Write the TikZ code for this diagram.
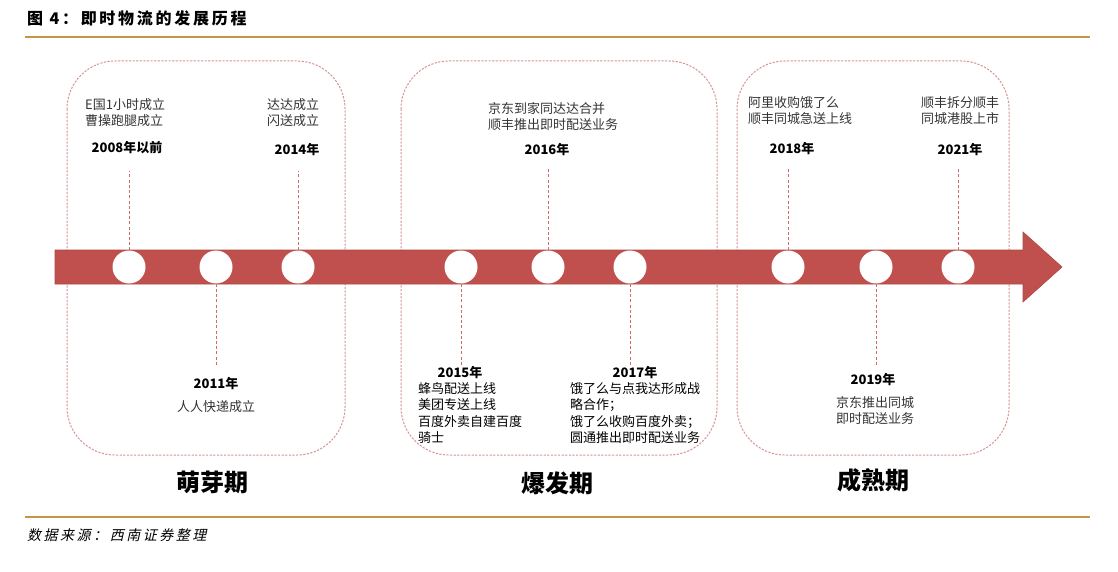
\documentclass[tikz,border=0pt]{standalone}
\usepackage{fontspec}
\setmainfont{Noto Sans CJK SC}
\newfontfamily\srcfont[FakeSlant=0.22,LetterSpace=18]{Noto Sans CJK SC}
\newfontfamily\titlefont[LetterSpace=17]{Noto Sans CJK SC}
\usepackage{tikz}
\usetikzlibrary{calc}
\definecolor{rulegold}{HTML}{C49545}
\definecolor{arrowred}{HTML}{C0504D}
\definecolor{boxpink}{HTML}{D69494}
\definecolor{tickred}{HTML}{D06A6A}
\definecolor{notegray}{HTML}{333333}
\tikzset{
  phase/.style={draw=boxpink, line width=1pt, dash pattern=on 2.2pt off 1.4pt, rounded corners=48pt},
  dot/.style={circle, fill=white, minimum size=33pt, inner sep=0pt},
  tick/.style={draw=tickred, line width=1pt, dash pattern=on 3pt off 2.2pt},
  year/.style={font=\bfseries\fontsize{13}{15}\selectfont, inner sep=0pt},
  note/.style={font=\fontsize{13}{16.5}\selectfont, text=notegray, inner sep=0pt, align=left},
  stage/.style={font=\bfseries\fontsize{24}{26}\selectfont, inner sep=0pt},
}

\begin{document}
\begin{tikzpicture}[x=1pt,y=-1pt]
\useasboundingbox (0,0) rectangle (1118,572);
% title and rules
\node[anchor=west, inner sep=0pt, font=\titlefont\bfseries\fontsize{16}{18}\selectfont] (title) at (27,18) {图 4：即时物流的发展历程};
\draw[rulegold, line width=2pt] (25,37) -- (1090,37);
\draw[rulegold, line width=2pt] (25,517) -- (1090,517);
\node[anchor=west, inner sep=0pt, font=\srcfont\fontsize{14}{16}\selectfont] (source) at (27,535) {数据来源：西南证券整理};

% phase boxes
\draw[phase] (67,61) rectangle (345,455);
\draw[phase] (401,61) rectangle (717,455);
\draw[phase] (737,61) rectangle (1009,455);

% time arrow
\fill[arrowred, draw=arrowred!90!black, line width=0.6pt] (55,250) -- (1023,250) -- (1023,232) -- (1062,267) -- (1023,302) -- (1023,284) -- (55,284) -- cycle;
\foreach \n/\x in {1/129,2/216,3/298,4/461,5/548,6/630,7/788,8/876,9/958}
  \node[dot] (c\n) at (\x,267) {};

% 萌芽期
\node[note, anchor=north west] (n2008) at (85,98) {E国1小时成立\\曹操跑腿成立};
\node[year] (y2008) at (127,148) {2008年以前};
\node[note, anchor=north] (n2014) at (293,98) {达达成立\\闪送成立};
\node[year] (y2014) at (297,150) {2014年};
\node[year] (y2011) at (216,384) {2011年};
\node[note] (n2011) at (216,407) {人人快递成立};

% 爆发期
\node[note, anchor=north west] (n2016) at (488,102) {京东到家同达达合并\\顺丰推出即时配送业务};
\node[year] (y2016) at (547,150) {2016年};
\node[year] (y2015) at (460,373) {2015年};
\node[note, text=black, anchor=north west] (n2015) at (418,382) {蜂鸟配送上线\\美团专送上线\\百度外卖自建百度\\骑士};
\node[year] (y2017) at (635,373) {2017年};
\node[note, text=black, anchor=north west] (n2017) at (570,382) {饿了么与点我达形成战\\略合作；\\饿了么收购百度外卖；\\圆通推出即时配送业务};

% 成熟期
\node[note, anchor=north west] (n2018) at (748,96) {阿里收购饿了么\\顺丰同城急送上线};
\node[year] (y2018) at (792,149) {2018年};
\node[note, anchor=north] (n2021) at (960,96) {顺丰拆分顺丰\\同城港股上市};
\node[year] (y2021) at (960,150) {2021年};
\node[year] (y2019) at (873,380) {2019年};
\node[note, anchor=north] (n2019) at (875,396) {京东推出同城\\即时配送业务};

% dashed links from circles to years
\foreach \c/\y/\s in {1/y2008/17,3/y2014/15,5/y2016/13,7/y2018/12,9/y2021/11}
  \draw[tick, shorten >=\s pt] (c\c) -- (c\c |- \y.south);
\foreach \c/\y/\s in {2/y2011/13,4/y2015/1,6/y2017/1,8/y2019/9}
  \draw[tick, shorten >=\s pt] (c\c) -- (c\c |- \y.north);

% stages
\node[stage] (s1) at (212,482) {萌芽期};
\node[stage] (s2) at (557,483) {爆发期};
\node[stage] (s3) at (873,480) {成熟期};
\end{tikzpicture}
\end{document}
